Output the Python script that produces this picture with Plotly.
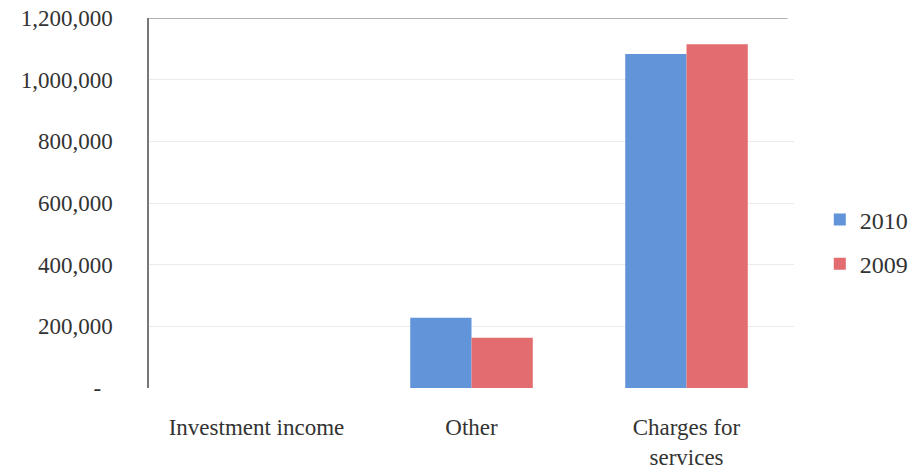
import plotly.graph_objects as go

categories = ["Investment income", "Other", "Charges for<br>services"]
values_2010 = [0, 228000, 1083000]
values_2009 = [0, 163000, 1115000]
tick_values = [0, 200000, 400000, 600000, 800000, 1000000, 1200000]
tick_labels = ["-\u00a0\u00a0", "200,000", "400,000", "600,000",
               "800,000", "1,000,000", "1,200,000"]

serif = "Liberation Serif"

fig = go.Figure()
fig.add_trace(go.Bar(name="2010", x=categories, y=values_2010, legendgroup="a",
                     marker=dict(color="#6194d8", line=dict(width=0))))
fig.add_trace(go.Bar(name="2009", x=categories, y=values_2009, legendgroup="b",
                     marker=dict(color="#e36c71", line=dict(width=0))))

fig.update_layout(
    width=915, height=471,
    margin=dict(l=149, r=121, t=18, b=83, autoexpand=False),
    barmode="group", bargap=0.43, bargroupgap=0,
    plot_bgcolor="white", paper_bgcolor="white",
    font=dict(family=serif, size=22, color="#333333"),
    legend=dict(x=1.04, xanchor="left", y=0.395, yanchor="middle",
                font=dict(family=serif, size=24, color="#333333"),
                itemwidth=30, traceorder="grouped", tracegroupgap=10,
                bgcolor="rgba(0,0,0,0)"),
    showlegend=True,
)
fig.update_yaxes(range=[0, 1200000], tickvals=tick_values, ticktext=tick_labels,
                 showgrid=True, gridcolor="#ebebeb", gridwidth=1,
                 showline=True, linecolor="#777777", linewidth=1.5,
                 zeroline=False, ticks="", ticklabelstandoff=30, automargin=False,
                 tickfont=dict(family=serif, size=23, color="#333333"))
fig.update_xaxes(showline=False, ticks="", ticklabelstandoff=23, automargin=False,
                 tickfont=dict(family=serif, size=23, color="#333333"))

# top border of the plotting area
fig.add_shape(type="line", xref="paper", yref="y", x0=0, x1=0.99,
              y0=1200000, y1=1200000, line=dict(color="#666666", width=1.2))

fig.write_html("out.html")
